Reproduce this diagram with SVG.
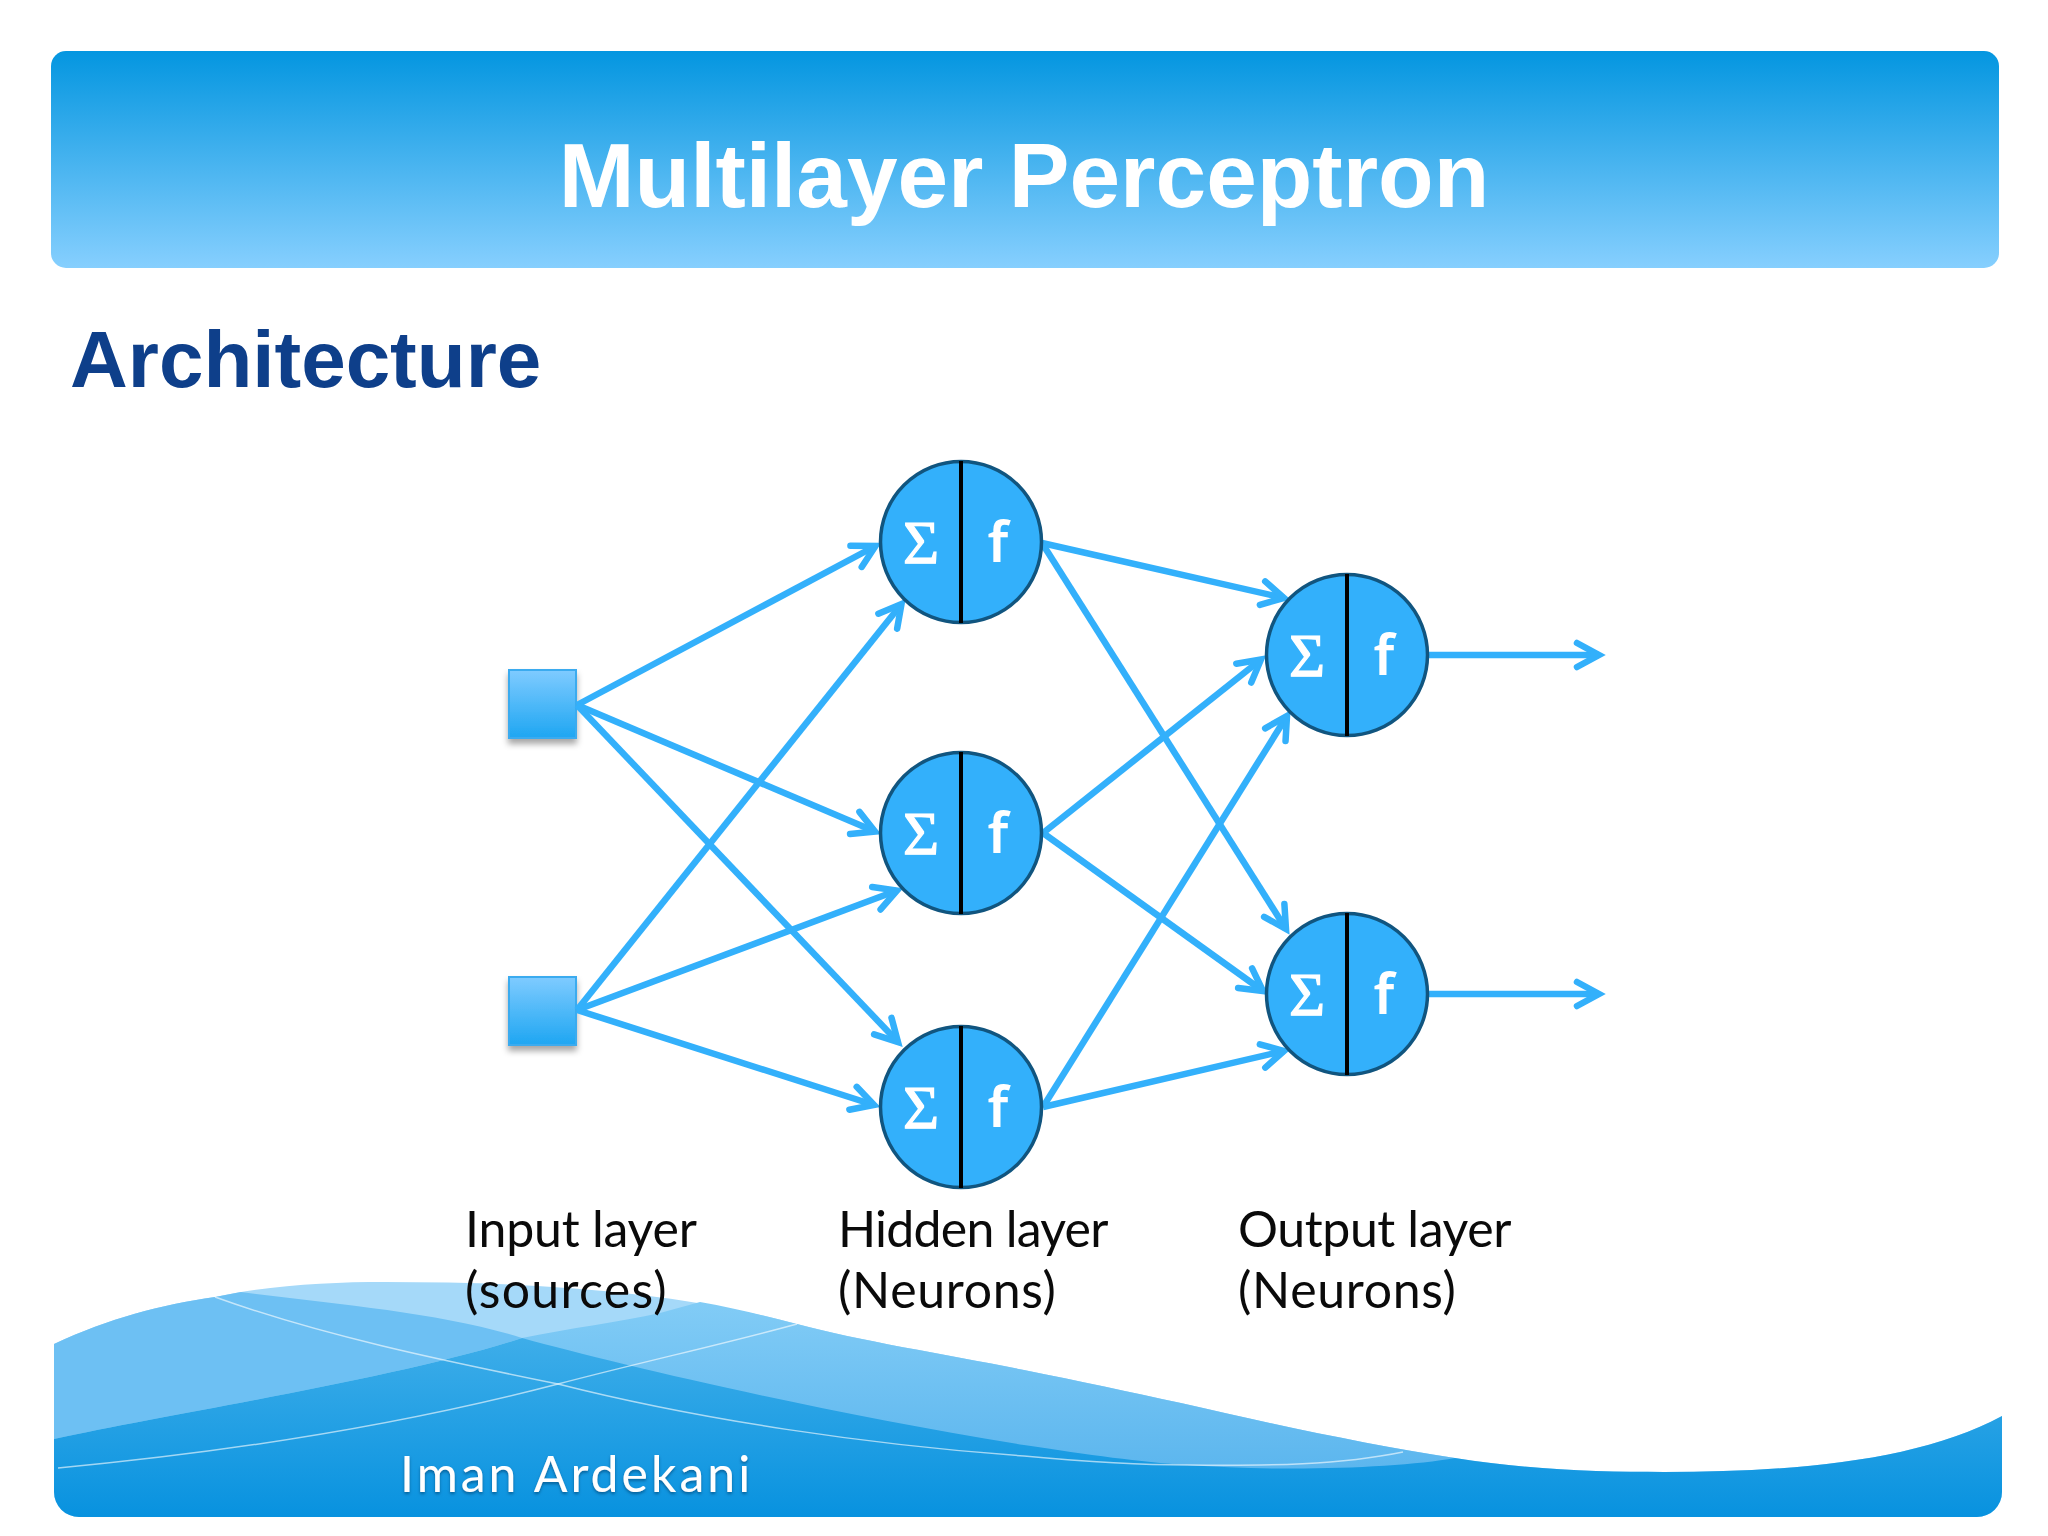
<svg xmlns="http://www.w3.org/2000/svg" width="2048" height="1536" viewBox="0 0 2048 1536">
<style>
.t{font-family:"Liberation Sans",Arial,sans-serif;font-weight:700}
.lab{font-family:"Lato","Noto Sans",sans-serif;font-size:50px;fill:#0a0a0a}
.n{fill:#33b0fb;stroke:#11557f;stroke-width:3.5}
.d{stroke:#000;stroke-width:4}
.sg{font-family:"Liberation Serif",serif;font-size:62px;fill:#fff;stroke:#fff;stroke-width:1.2;text-anchor:middle}
.ff{font-family:"Noto Sans",sans-serif;font-weight:600;font-size:56px;fill:#fff;text-anchor:middle}
.c line{stroke:#33b0fb;stroke-width:6.5;marker-end:url(#ah)}
.sq{fill:url(#sq);stroke:#3aabef;stroke-width:2;filter:url(#sh)}
</style>
<defs>
<linearGradient id="bn" x1="0" y1="0" x2="0" y2="1"><stop offset="0" stop-color="#0496e0"/><stop offset="1" stop-color="#86cffe"/></linearGradient>
<linearGradient id="sq" x1="0" y1="0" x2="0" y2="1"><stop offset="0" stop-color="#7fcbff"/><stop offset="1" stop-color="#1ea6f2"/></linearGradient>
<linearGradient id="wr" gradientUnits="userSpaceOnUse" x1="0" y1="1300" x2="0" y2="1470"><stop offset="0" stop-color="#82ccf6"/><stop offset="1" stop-color="#5cb6ee"/></linearGradient>
<linearGradient id="wd" gradientUnits="userSpaceOnUse" x1="0" y1="1340" x2="0" y2="1517"><stop offset="0" stop-color="#3dade9"/><stop offset="1" stop-color="#0892df"/></linearGradient>
<clipPath id="cl"><path d="M54,1280H2002V1492a25,25 0 0 1 -25,25H79a25,25 0 0 1 -25,-25Z"/></clipPath>
<filter id="sh" x="-20%" y="-20%" width="140%" height="150%"><feDropShadow dx="0" dy="5" stdDeviation="3" flood-color="#000" flood-opacity=".35"/></filter>
<filter id="ts" x="-5%" y="-20%" width="110%" height="150%"><feDropShadow dx="0" dy="2" stdDeviation="1.5" flood-color="#044a7a" flood-opacity=".7"/></filter>
<marker id="ah" markerUnits="userSpaceOnUse" markerWidth="60" markerHeight="60" refX="30" refY="30" orient="auto" viewBox="0 0 60 60"><path d="M8,18 L30,30 L8,42" fill="none" stroke="#33b0fb" stroke-width="6.5" stroke-linecap="round"/></marker>
</defs>
<rect width="2048" height="1536" fill="#fff"/>
<g id="banner"><rect x="51" y="51" width="1948" height="217" rx="15" fill="url(#bn)"/>
<text class="t" x="1024" y="207" font-size="91" fill="#fff" text-anchor="middle">Multilayer Perceptron</text></g>
<text id="subtitle" class="t" x="70" y="387" font-size="80" fill="#0e3f8a">Architecture</text>
<g id="wave" clip-path="url(#cl)">
<path fill="#a5d9f9" d="M54,1344 C110,1318 160,1305 215,1297 C270,1285 330,1282 385,1282 C530,1282 670,1290 797,1324 C860,1341 950,1355 1024,1370 C1080,1381 1130,1392 1181,1403 C1280,1426 1370,1445 1455,1458 C1530,1470 1600,1472 1664,1472 C1800,1472 1920,1460 2002,1416 V1517 H54Z"/>
<path fill="#6dc0f3" d="M54,1344 C110,1318 160,1305 215,1297 L241,1292 C340,1305 440,1312 522,1338 C400,1378 180,1412 54,1439Z"/>
<path fill="url(#wr)" d="M522,1338 C570,1328 620,1322 660,1313 L700,1302 C735,1308 770,1317 797,1324 C860,1341 950,1355 1024,1370 C1080,1381 1130,1392 1181,1403 C1280,1426 1370,1445 1455,1458 L1455,1490 L522,1490Z"/>
<path fill="url(#wd)" d="M54,1439 C180,1412 400,1378 522,1338 C620,1365 820,1412 1024,1445 C1090,1455 1140,1462 1187,1465 C1285,1472 1400,1468 1455,1458 C1530,1470 1600,1472 1664,1472 C1800,1472 1920,1460 2002,1416 V1517 H54Z"/>
<path fill="none" stroke="#fff" stroke-opacity=".6" stroke-width="1.5" d="M58,1468 C250,1450 420,1420 558,1384 C650,1360 720,1345 797,1324"/>
<path fill="none" stroke="#fff" stroke-opacity=".6" stroke-width="1.5" d="M215,1297 C320,1335 440,1360 558,1384 C700,1420 870,1445 1024,1456 C1100,1463 1140,1465 1187,1465 C1270,1466 1340,1465 1403,1452"/>
</g>
<g id="input1"><rect class="sq" x="509" y="670" width="67" height="68"/></g>
<g id="input2"><rect class="sq" x="509" y="977" width="67" height="68"/></g>
<g class="c" id="connectors">
<line x1="577" y1="705" x2="875.5" y2="546"/>
<line x1="577" y1="705" x2="875" y2="831.5"/>
<line x1="577" y1="705" x2="898" y2="1042"/>
<line x1="577" y1="1010" x2="901.5" y2="604"/>
<line x1="577" y1="1010" x2="897" y2="890.5"/>
<line x1="577" y1="1010" x2="874" y2="1105"/>
<line x1="1042" y1="543" x2="1284" y2="598"/>
<line x1="1042" y1="543" x2="1286" y2="929"/>
<line x1="1043" y1="833" x2="1261" y2="659.5"/>
<line x1="1043" y1="833" x2="1263" y2="991"/>
<line x1="1043" y1="1107" x2="1287" y2="716"/>
<line x1="1043" y1="1107" x2="1284" y2="1051"/>
<line x1="1428" y1="655" x2="1599" y2="655"/>
<line x1="1428" y1="994" x2="1599" y2="994"/>
</g>
<g id="h1"><circle class="n" cx="961" cy="542" r="80.5"/><line class="d" x1="961" y1="461" x2="961" y2="623"/><text class="sg" x="921" y="563">Σ</text><text class="ff" x="998" y="562">f</text></g>
<g id="h2"><circle class="n" cx="961" cy="833" r="80.5"/><line class="d" x1="961" y1="752" x2="961" y2="914"/><text class="sg" x="921" y="854">Σ</text><text class="ff" x="998" y="853">f</text></g>
<g id="h3"><circle class="n" cx="961" cy="1107" r="80.5"/><line class="d" x1="961" y1="1026" x2="961" y2="1188"/><text class="sg" x="921" y="1128">Σ</text><text class="ff" x="998" y="1127">f</text></g>
<g id="o1"><circle class="n" cx="1347" cy="655" r="80.5"/><line class="d" x1="1347" y1="574" x2="1347" y2="736"/><text class="sg" x="1307" y="676">Σ</text><text class="ff" x="1384" y="675">f</text></g>
<g id="o2"><circle class="n" cx="1347" cy="994" r="80.5"/><line class="d" x1="1347" y1="913" x2="1347" y2="1075"/><text class="sg" x="1307" y="1015">Σ</text><text class="ff" x="1384" y="1014">f</text></g>
<g id="labels">
<text class="lab" x="465" y="1247" letter-spacing="-.2">Input layer</text>
<text class="lab" x="465" y="1308" letter-spacing="1.3">(sources)</text>
<text class="lab" x="838" y="1247" letter-spacing="-.75">Hidden layer</text>
<text class="lab" x="838" y="1308" letter-spacing=".7">(Neurons)</text>
<text class="lab" x="1238" y="1247" letter-spacing="-.4">Output layer</text>
<text class="lab" x="1238" y="1308" letter-spacing=".7">(Neurons)</text>
</g>
<text id="author" x="400" y="1492" font-family="Lato,'Noto Sans',sans-serif" font-size="50" fill="#fff" filter="url(#ts)" letter-spacing="3">Iman Ardekani</text>
</svg>
